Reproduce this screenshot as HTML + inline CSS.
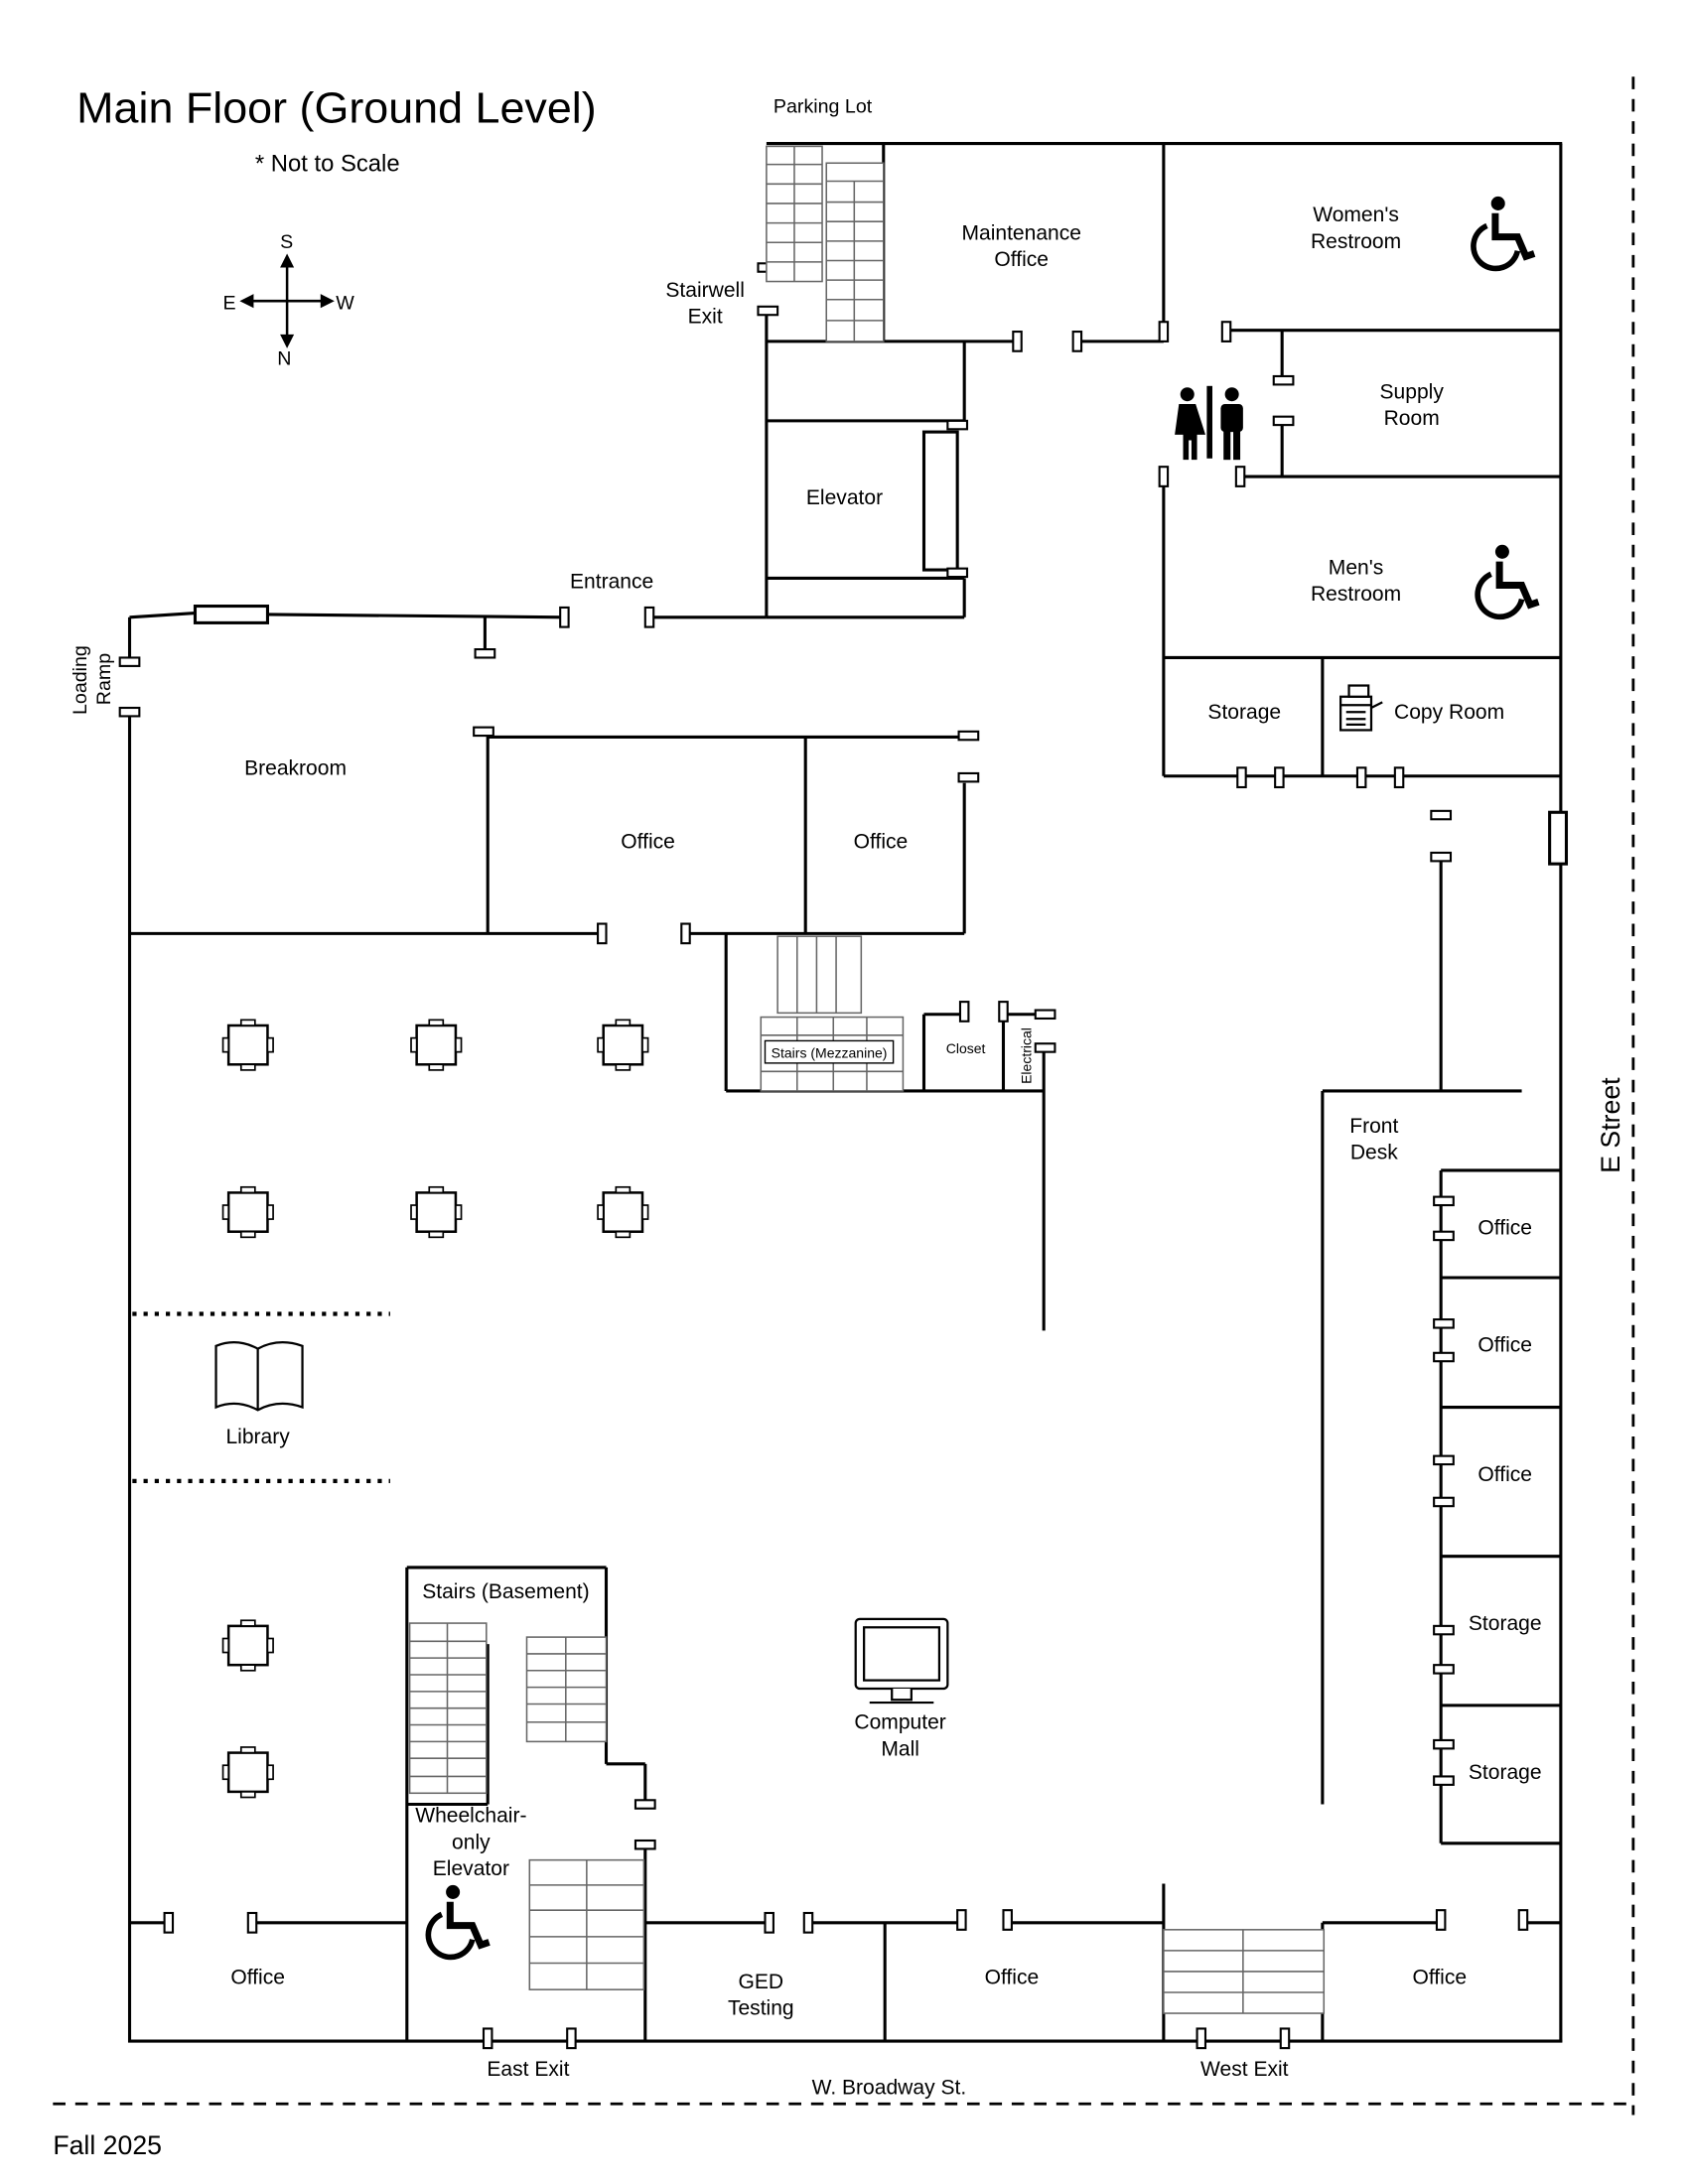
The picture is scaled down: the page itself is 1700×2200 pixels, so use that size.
<!DOCTYPE html>
<html><head><meta charset="utf-8"><style>
html,body{margin:0;padding:0;background:#fff;}
svg{display:block;}
text{font-family:"Liberation Sans",Arial,sans-serif;fill:#000;}
</style></head><body>
<svg width="1700" height="2200" viewBox="0 0 1211.3 1567.5" xmlns="http://www.w3.org/2000/svg">
<defs>
<g id="tbl"><rect x="-14" y="-14" width="28" height="28" fill="#fff" stroke="#000" stroke-width="1.8"/>
<rect x="-5" y="-18" width="10" height="4" fill="#fff" stroke="#000" stroke-width="1.2"/>
<rect x="-5" y="14" width="10" height="4" fill="#fff" stroke="#000" stroke-width="1.2"/>
<rect x="-18" y="-5" width="4" height="10" fill="#fff" stroke="#000" stroke-width="1.2"/>
<rect x="14" y="-5" width="4" height="10" fill="#fff" stroke="#000" stroke-width="1.2"/></g>
<g id="dv"><rect x="-3" y="-7" width="6" height="14" fill="#fff" stroke="#000" stroke-width="1.5"/></g>
<g id="dh"><rect x="-7" y="-3" width="14" height="6" fill="#fff" stroke="#000" stroke-width="1.5"/></g>
<g id="wc"><circle cx="0" cy="-22" r="5" fill="#000"/>
<path d="M-2,-15 L-2,2 L14,2 L20,16 L26,14" fill="none" stroke="#000" stroke-width="5"/>
<path d="M-8,-6 A16,16 0 1 0 14,12" fill="none" stroke="#000" stroke-width="4"/></g>
</defs>
<text x="55" y="88" font-size="31" textLength="373" lengthAdjust="spacingAndGlyphs">Main Floor (Ground Level)</text>
<text x="183" y="123" font-size="17">* Not to Scale</text>
<text x="555" y="81" font-size="14">Parking Lot</text>
<g stroke="#000" stroke-width="1.8" fill="none">
<line x1="206" y1="185" x2="206" y2="246"/><line x1="176" y1="216" x2="236" y2="216"/>
</g>
<g fill="#000"><path d="M206,182 l-5,10 h10z"/><path d="M206,250 l-5,-10 h10z"/><path d="M172,216 l10,-5 v10z"/><path d="M240,216 l-10,-5 v10z"/></g>
<text x="201" y="178" font-size="14">S</text><text x="199" y="262" font-size="14">N</text>
<text x="160" y="222" font-size="14">E</text><text x="241" y="222" font-size="14">W</text>

<g stroke="#000" stroke-width="2.2" fill="none">
<line x1="550" y1="103" x2="1121" y2="103"/>
<line x1="1120" y1="103" x2="1120" y2="1466"/>
<line x1="92" y1="1465" x2="1121" y2="1465"/>
<line x1="93" y1="514" x2="93" y2="1466"/>
<line x1="93" y1="476" x2="93" y2="443"/>
<path d="M93,443 L140,440"/>
<line x1="192" y1="441" x2="405" y2="443"/>
<line x1="348" y1="443" x2="348" y2="468"/>
<line x1="466" y1="443" x2="550" y2="443"/>
<line x1="550" y1="222" x2="550" y2="443"/>
<line x1="550" y1="245" x2="730" y2="245"/>
<line x1="634" y1="103" x2="634" y2="245"/>
<line x1="692" y1="245" x2="692" y2="302"/>
<line x1="550" y1="302" x2="692" y2="302"/>
<line x1="550" y1="415" x2="692" y2="415"/>
<line x1="692" y1="415" x2="692" y2="443"/>
<line x1="550" y1="443" x2="692" y2="443"/>
<rect x="663" y="310" width="24" height="99"/>
<line x1="773" y1="245" x2="835" y2="245"/>
<line x1="835" y1="103" x2="835" y2="237"/>
<line x1="880" y1="237" x2="1120" y2="237"/>
<line x1="920" y1="237" x2="920" y2="270"/>
<line x1="920" y1="305" x2="920" y2="342"/>
<line x1="890" y1="342" x2="1120" y2="342"/>
<line x1="835" y1="346" x2="835" y2="557"/>
<line x1="835" y1="472" x2="1120" y2="472"/>
<line x1="949" y1="472" x2="949" y2="557"/>
<line x1="835" y1="557" x2="1120" y2="557"/>
<line x1="1034" y1="615" x2="1034" y2="783"/>
<line x1="949" y1="783" x2="1092" y2="783"/>
<line x1="949" y1="783" x2="949" y2="1295"/>
<line x1="1034" y1="840" x2="1034" y2="1323"/>
<line x1="1034" y1="840" x2="1120" y2="840"/>
<line x1="1034" y1="917" x2="1120" y2="917"/>
<line x1="1034" y1="1010" x2="1120" y2="1010"/>
<line x1="1034" y1="1117" x2="1120" y2="1117"/>
<line x1="1034" y1="1224" x2="1120" y2="1224"/>
<line x1="1034" y1="1323" x2="1120" y2="1323"/>
<rect x="1112" y="583" width="12" height="37" fill="#fff"/>
<rect x="140" y="435" width="52" height="12" fill="#fff"/>
<line x1="93" y1="670" x2="432" y2="670"/>
<line x1="492" y1="670" x2="692" y2="670"/>
<line x1="350" y1="527" x2="350" y2="670"/>
<line x1="350" y1="529" x2="695" y2="529"/>
<line x1="578" y1="529" x2="578" y2="670"/>
<line x1="692" y1="562" x2="692" y2="670"/>
<line x1="521" y1="670" x2="521" y2="783"/>
<line x1="521" y1="783" x2="749" y2="783"/>
<line x1="663" y1="728" x2="663" y2="783"/>
<line x1="720" y1="728" x2="720" y2="783"/>
<line x1="663" y1="728" x2="692" y2="728"/>
<line x1="720" y1="728" x2="750" y2="728"/>
<line x1="749" y1="755" x2="749" y2="955"/>
<line x1="93" y1="1380" x2="120" y2="1380"/>
<line x1="181" y1="1380" x2="292" y2="1380"/>
<line x1="292" y1="1125" x2="292" y2="1465"/>
<line x1="292" y1="1125" x2="435" y2="1125"/>
<line x1="435" y1="1125" x2="435" y2="1266"/>
<line x1="435" y1="1266" x2="463" y2="1266"/>
<line x1="463" y1="1266" x2="463" y2="1292"/>
<line x1="350" y1="1180" x2="350" y2="1295"/>
<line x1="292" y1="1295" x2="350" y2="1295"/>
<line x1="463" y1="1326" x2="463" y2="1465"/>
<line x1="463" y1="1380" x2="552" y2="1380"/>
<line x1="580" y1="1380" x2="690" y2="1380"/>
<line x1="723" y1="1380" x2="835" y2="1380"/>
<line x1="635" y1="1380" x2="635" y2="1465"/>
<line x1="835" y1="1352" x2="835" y2="1465"/>
<line x1="949" y1="1380" x2="949" y2="1465"/>
<line x1="949" y1="1380" x2="1034" y2="1380"/>
<line x1="1093" y1="1380" x2="1120" y2="1380"/>
</g>
<g stroke="#000" stroke-width="2" fill="none">
<line x1="1172" y1="55" x2="1172" y2="1518" stroke-dasharray="9,7"/>
<line x1="38" y1="1510" x2="1172" y2="1510" stroke-dasharray="9,7"/>
<line x1="95" y1="943" x2="280" y2="943" stroke-dasharray="3,5" stroke-width="3"/>
<line x1="95" y1="1063" x2="280" y2="1063" stroke-dasharray="3,5" stroke-width="3"/>
</g>
<use href="#dh" x="551" y="192"/><use href="#dh" x="551" y="223"/>
<use href="#dv" x="730" y="245"/><use href="#dv" x="773" y="245"/>
<use href="#dv" x="835" y="238"/><use href="#dv" x="880" y="238"/>
<use href="#dh" x="921" y="273"/><use href="#dh" x="921" y="302"/>
<use href="#dv" x="835" y="342"/><use href="#dv" x="890" y="342"/>
<use href="#dh" x="687" y="305"/><use href="#dh" x="687" y="411"/>
<use href="#dv" x="405" y="443"/><use href="#dv" x="466" y="443"/>
<use href="#dh" x="348" y="469"/>
<use href="#dh" x="93" y="475"/><use href="#dh" x="93" y="511"/>
<use href="#dh" x="347" y="525"/><use href="#dh" x="695" y="528"/><use href="#dh" x="695" y="558"/>
<use href="#dv" x="432" y="670"/><use href="#dv" x="492" y="670"/>
<use href="#dv" x="692" y="726"/><use href="#dv" x="720" y="726"/>
<use href="#dh" x="750" y="728"/><use href="#dh" x="750" y="752"/>
<use href="#dv" x="891" y="558"/><use href="#dv" x="918" y="558"/><use href="#dv" x="977" y="558"/><use href="#dv" x="1004" y="558"/>
<use href="#dh" x="1034" y="585"/><use href="#dh" x="1034" y="615"/>
<use href="#dh" x="1036" y="862"/><use href="#dh" x="1036" y="887"/>
<use href="#dh" x="1036" y="950"/><use href="#dh" x="1036" y="974"/>
<use href="#dh" x="1036" y="1048"/><use href="#dh" x="1036" y="1078"/>
<use href="#dh" x="1036" y="1170"/><use href="#dh" x="1036" y="1198"/>
<use href="#dh" x="1036" y="1252"/><use href="#dh" x="1036" y="1278"/>
<use href="#dv" x="121" y="1380"/><use href="#dv" x="181" y="1380"/>
<use href="#dh" x="463" y="1295"/><use href="#dh" x="463" y="1324"/>
<use href="#dv" x="552" y="1380"/><use href="#dv" x="580" y="1380"/>
<use href="#dv" x="690" y="1378"/><use href="#dv" x="723" y="1378"/>
<use href="#dv" x="1034" y="1378"/><use href="#dv" x="1093" y="1378"/>
<use href="#dv" x="350" y="1463"/><use href="#dv" x="410" y="1463"/>
<use href="#dv" x="862" y="1463"/><use href="#dv" x="922" y="1463"/>
<g stroke="#666" stroke-width="1.1" fill="#fff">
<rect x="550" y="105" width="40" height="97"/><line x1="570" y1="105" x2="570" y2="202"/>
<path d="M550,118h40M550,132h40M550,146h40M550,160h40M550,174h40M550,188h40"/>
<rect x="593" y="117" width="41" height="128"/><line x1="613" y1="130" x2="613" y2="245"/>
<path d="M593,130h41M593,145h41M593,159h41M593,173h41M593,187h41M593,201h41M593,215h41M593,230h41"/>
<rect x="558" y="672" width="60" height="55"/><path d="M572,672v55M586,672v55M600,672v55"/>
<rect x="546" y="730" width="102" height="53"/><path d="M546,743h102M546,769h102M572,730v53M598,730v53M622,730v53"/>
<rect x="294" y="1165" width="55" height="122"/><line x1="321" y1="1165" x2="321" y2="1287"/>
<path d="M294,1178h55M294,1190h55M294,1202h55M294,1214h55M294,1226h55M294,1238h55M294,1250h55M294,1262h55M294,1275h55"/>
<rect x="378" y="1175" width="57" height="75"/><line x1="406" y1="1175" x2="406" y2="1250"/>
<path d="M378,1187h57M378,1199h57M378,1211h57M378,1223h57M378,1236h57"/>
<rect x="380" y="1335" width="82" height="93"/><line x1="421" y1="1335" x2="421" y2="1428"/>
<path d="M380,1353h82M380,1371h82M380,1390h82M380,1409h82"/>
<rect x="835" y="1385" width="115" height="60"/><line x1="892" y1="1385" x2="892" y2="1445"/>
<path d="M835,1400h115M835,1415h115M835,1430h115"/>
</g>
<rect x="549" y="747" width="92" height="16" fill="#fff" stroke="#000" stroke-width="1"/>
<text x="595" y="759" font-size="10" text-anchor="middle">Stairs (Mezzanine)</text>
<use href="#tbl" x="178" y="750"/><use href="#tbl" x="313" y="750"/><use href="#tbl" x="447" y="750"/>
<use href="#tbl" x="178" y="870"/><use href="#tbl" x="313" y="870"/><use href="#tbl" x="447" y="870"/>
<use href="#tbl" x="178" y="1181"/><use href="#tbl" x="178" y="1272"/>
<use href="#wc" x="1075" y="168"/>
<use href="#wc" x="1078" y="418"/>
<use href="#wc" x="325" y="1380"/>
<g fill="#000">
<circle cx="852" cy="283" r="5"/><path d="M846,290h12l7,22h-6v18h-4v-14h-2v14h-4v-18h-6z"/>
<rect x="866" y="277" width="4" height="52"/>
<circle cx="884" cy="283" r="5"/><rect x="876" y="290" width="16" height="20" rx="3"/><rect x="878" y="306" width="5" height="24"/><rect x="885" y="306" width="5" height="24"/>
</g>
<g stroke="#000" stroke-width="1.6" fill="#fff">
<rect x="962" y="500" width="22" height="24"/><path d="M962,506h22M966,511h14M966,516h14M966,520h14M984,508l8,-4"/>
<rect x="968" y="492" width="14" height="8"/>
<path d="M155,1010 V966 Q170,960 185,968 Q200,960 217,966 V1010 Q200,1004 185,1012 Q170,1004 155,1010 Z"/>
<line x1="185" y1="968" x2="185" y2="1012"/>
<rect x="614" y="1162" width="66" height="50" rx="3"/><rect x="620" y="1168" width="54" height="38"/>
<path d="M640,1212v8h14v-8M624,1222h46"/>
</g>
<g font-size="15" text-anchor="middle">
<text x="733" y="172">Maintenance</text><text x="733" y="191">Office</text>
<text x="973" y="159">Women's</text><text x="973" y="178">Restroom</text>
<text x="1013" y="286">Supply</text><text x="1013" y="305">Room</text>
<text x="973" y="412">Men's</text><text x="973" y="431">Restroom</text>
<text x="893" y="516">Storage</text><text x="1040" y="516">Copy Room</text>
<text x="606" y="362">Elevator</text>
<text x="506" y="213">Stairwell</text><text x="506" y="232">Exit</text>
<text x="439" y="422">Entrance</text>
<text x="212" y="556">Breakroom</text>
<text x="465" y="609">Office</text><text x="632" y="609">Office</text>
<text x="185" y="1036">Library</text>
<text x="986" y="813">Front</text><text x="986" y="832">Desk</text>
<text x="1080" y="886">Office</text><text x="1080" y="970">Office</text><text x="1080" y="1063">Office</text>
<text x="1080" y="1170">Storage</text><text x="1080" y="1277">Storage</text>
<text x="646" y="1241">Computer</text><text x="646" y="1260">Mall</text>
<text x="363" y="1147">Stairs (Basement)</text>
<text x="338" y="1308">Wheelchair-</text><text x="338" y="1327">only</text><text x="338" y="1346">Elevator</text>
<text x="185" y="1424">Office</text>
<text x="546" y="1427">GED</text><text x="546" y="1446">Testing</text>
<text x="726" y="1424">Office</text><text x="1033" y="1424">Office</text>
<text x="379" y="1490">East Exit</text><text x="893" y="1490">West Exit</text>
<text x="638" y="1503">W. Broadway St.</text>
</g>
<text x="693" y="756" font-size="10" text-anchor="middle">Closet</text>
<text transform="translate(740,778) rotate(-90)" font-size="10">Electrical</text>
<text transform="translate(62,513) rotate(-90)" font-size="14">Loading</text>
<text transform="translate(79,506) rotate(-90)" font-size="14">Ramp</text>
<text transform="translate(1162,842) rotate(-90)" font-size="19">E Street</text>
<text x="38" y="1546" font-size="19">Fall 2025</text>
</svg>
</body></html>
